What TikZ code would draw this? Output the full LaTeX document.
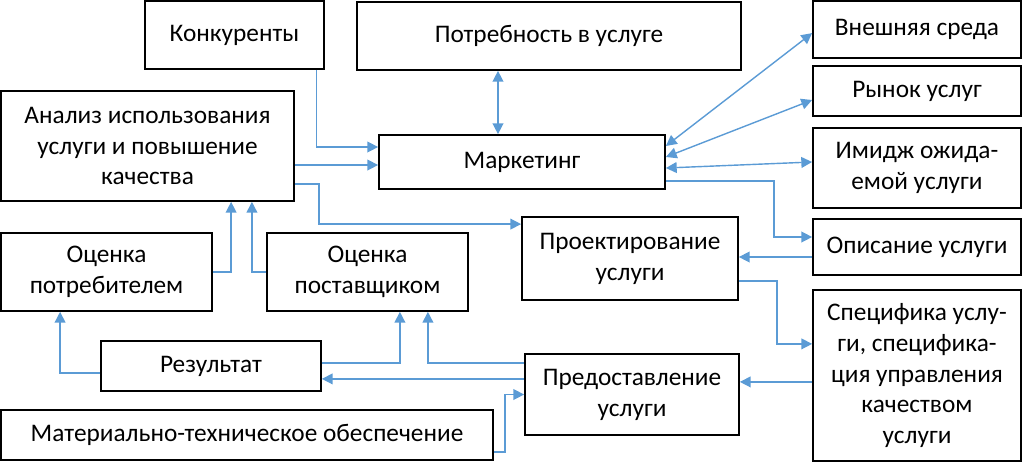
\documentclass[tikz,border=0pt]{standalone}
\usepackage{fontspec}
\setmainfont{Carlito}
\usetikzlibrary{arrows.meta}
\definecolor{lineblue}{HTML}{5B9BD5}
\tikzset{
	box/.style={draw, line width=1.2pt, inner sep=0pt, align=center, font=\fontsize{18}{22}\selectfont},
	arr/.style={draw=lineblue, line width=1pt, -{Triangle[length=0.27cm, width=0.27cm]}},
	dbl/.style={arr, {Triangle[length=0.27cm, width=0.27cm]}-{Triangle[length=0.27cm, width=0.27cm]}}
}
\begin{document}
\begin{tikzpicture}[x=0.025cm, y=-0.025cm]
	\useasboundingbox (0, 0) rectangle (1033, 463);

	\node[box, minimum width=4.475cm, minimum height=1.7cm] (konk) at (234.5, 35) {Конкуренты};
	\node[box, minimum width=9.6cm, minimum height=1.7cm] (potr) at (549, 36) {Потребность в услуге};
	\node[box, minimum width=7.325cm, minimum height=2.75cm] (analiz) at (147.5, 146) {Анализ использования\\услуги и повышение\\качества};
	\node[box, minimum width=7.15cm, minimum height=1.35cm] (mark) at (522, 162) {Маркетинг};
	\node[box, minimum width=5.2cm, minimum height=1.425cm] (vnesh) at (917, 29.5) {Внешняя среда};
	\node[box, minimum width=5.2cm, minimum height=1.25cm] (rynok) at (917, 91) {Рынок услуг};
	\node[box, minimum width=5.2cm, minimum height=2cm] (imidzh) at (917, 168) {Имидж ожида-\\емой услуги};
	\node[box, minimum width=5.2cm, minimum height=1.4cm] (opis) at (917, 247) {Описание услуги};
	\node[box, minimum width=5.4cm, minimum height=2.075cm] (proekt) at (630, 258.5) {Проектирование\\услуги};
	\node[box, minimum width=5.2cm, minimum height=4.275cm] (spec) at (917, 375.5) {Специфика услу-\\ги, специфика-\\ция управления\\качеством\\услуги};
	\node[box, minimum width=5.35cm, minimum height=2.025cm] (predost) at (632, 394.5) {Предоставление\\услуги};
	\node[box, minimum width=5.275cm, minimum height=1.95cm] (ocpotr) at (106.5, 272) {Оценка\\потребителем};
	\node[box, minimum width=5.025cm, minimum height=1.95cm] (ocpost) at (367.5, 272) {Оценка\\поставщиком};
	\node[box, minimum width=5.5cm, minimum height=1.25cm] (rez) at (211, 366) {Результат};
	\node[box, minimum width=12.3cm, minimum height=1.25cm] (mat) at (247, 435) {Материально-техническое обеспечение};

	\draw[arr] ([xshift=2.05cm]konk.south) |- ([yshift=0.375cm]mark.west);
	\draw[arr] ([yshift=-0.475cm]analiz.east) coordinate (a1) -- (a1 -| mark.west);
	\draw[arr] ([yshift=-0.95cm]analiz.east) -- ++(0.6cm, 0) |- ([yshift=0.86cm]proekt.west);
	\draw[dbl] ([xshift=-0.6cm]mark.north) -- ([xshift=-0.6cm]mark.north |- potr.south);
	\draw[dbl] ([yshift=0.4cm]mark.east) -- ([yshift=-0.09cm]vnesh.west);
	\draw[dbl] ([yshift=0.125cm]mark.east) -- ([yshift=-0.225cm]rynok.west);
	\draw[dbl] ([yshift=-0.15cm]mark.east) -- ([yshift=0.15cm]imidzh.west);
	\draw[arr] ([yshift=-0.475cm]mark.east) -- ++(2.7cm, 0) |- ([yshift=0.25cm]opis.west);
	\draw[arr] ([yshift=-0.25cm]opis.west) coordinate (a2) -- (a2 -| proekt.east);
	\draw[arr] ([yshift=-0.56cm]proekt.east) -- ++(0.95cm, 0) |- ([yshift=0.79cm]spec.west);
	\draw[arr] ([yshift=-0.16cm]spec.west) coordinate (a3) -- (a3 -| predost.east);
	\draw[arr] (ocpotr.east) -| ([xshift=2.09cm]analiz.south);
	\draw[arr] (ocpost.west) -| ([xshift=2.61cm]analiz.south);
	\draw[arr] ([yshift=-0.175cm]rez.west) -| ([xshift=-1.16cm]ocpotr.south);
	\draw[arr] ([yshift=0.075cm]rez.east) -| ([xshift=0.81cm]ocpost.south);
	\draw[arr] ([yshift=0.79cm]predost.west) -| ([xshift=1.51cm]ocpost.south);
	\draw[arr] ([yshift=0.39cm]predost.west) coordinate (a4) -- (a4 -| rez.east);
	\draw[arr] ([yshift=-0.425cm]mat.east) -- ++(0.275cm, 0) |- (predost.west);

\end{tikzpicture}
\end{document}
